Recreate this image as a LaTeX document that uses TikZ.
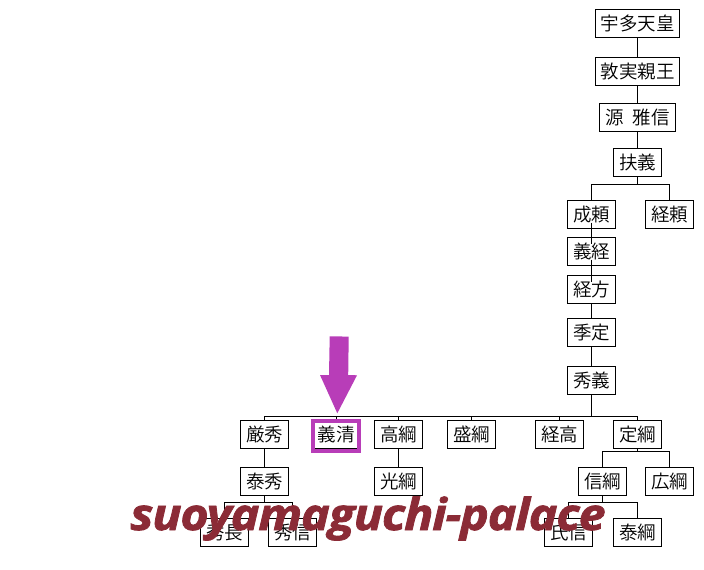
\documentclass[tikz,border=0pt]{standalone}
\usepackage{fontspec}
\usepackage{xcolor}
\setmainfont{Open Sans}
\newfontfamily\jpfont{Noto Sans CJK JP DemiLight}
\newfontfamily\stampfont{Open Sans}[BoldItalicFeatures={FakeBold=1.8,FakeStretch=1.1,LetterSpace=-2.5}]
\usetikzlibrary{positioning}
\definecolor{markpurple}{HTML}{B83DB8}
\definecolor{stampred}{HTML}{8B2B36}
\tikzset{
	kakei/.style={draw,line width=1pt,outer sep=0pt,inner sep=0pt,minimum width=48pt,minimum height=28pt,font=\jpfont\fontsize{18.5}{18.5}\selectfont},
	kakeiwide/.style={kakei,minimum width=84pt},
	kakeimid/.style={kakei,minimum width=76pt},
	mark box/.style={draw=markpurple,line width=4pt,inner sep=0pt,minimum width=46pt,minimum height=30pt},
	stamp/.style={inner sep=0pt,anchor=base west,text=stampred,font=\stampfont\bfseries\itshape\fontsize{44}{44}\selectfont},
	overrun/.style={shorten >=-6pt,shorten <=-6pt}
}

\begin{document}
\begin{tikzpicture}[x=1pt,y=-1pt,line width=1pt]
	\useasboundingbox (0,0) rectangle (704,570);
	% upper line
	\node[kakeiwide] (uda) at (637.5,23.5) {宇多天皇};
	\node[kakeiwide] (atsuzane) [below=20pt of uda] {敦実親王};
	\node[kakeimid] (masanobu) [below=18pt of atsuzane] {源\hspace{9pt}雅信};
	\node[kakei] (sukeyoshi) [below=17pt of masanobu] {扶義};
	\node[kakei] (nariyori) at (591.5,214.5) {成頼};
	\node[kakei] (tsuneyori) [right=30pt of nariyori] {経頼};
	\node[kakei] (yoshitsune) [below=9pt of nariyori] {義経};
	\node[kakei] (tsunekata) [below=10pt of yoshitsune] {経方};
	\node[kakei] (suesada) [below=15pt of tsunekata] {季定};
	\node[kakei] (hideyoshi) [below=20pt of suesada] {秀義};
	% children of hideyoshi
	\node[kakei] (itsuhide) at (264.5,434.5) {厳秀};
	\node[kakei] (yoshikiyo) [right=23.5pt of itsuhide] {義清};
	\node[kakei] (takatsuna) [right=14.5pt of yoshikiyo] {高綱};
	\node[kakei] (moritsuna) [right=25pt of takatsuna] {盛綱};
	\node[kakei] (tsunetaka) [right=40pt of moritsuna] {経高};
	\node[kakei] (sadatsuna) [right=30pt of tsunetaka] {定綱};
	\node[kakei] (yasuhide) [below=19pt of itsuhide] {泰秀};
	\node[kakei] (mitsutsuna) [below=19pt of takatsuna] {光綱};
	\node[kakei] (hidenaga) at (224.5,532.5) {秀長};
	\node[kakei] (hidenobu) [right=20pt of hidenaga] {秀信};
	\node[kakei] (nobutsuna) at (602.5,481.5) {信綱};
	\node[kakei] (hirotsuna) [right=19pt of nobutsuna] {広綱};
	\node[kakei] (ujinobu) at (568.5,532.5) {氏信};
	\node[kakei] (yasutsuna) [right=21pt of ujinobu] {泰綱};
	% branch heights
	\coordinate (busa) at (0,184.5);
	\coordinate (busb) at (0,416.5);
	\coordinate (busc) at (0,451.5);
	\coordinate (busd) at (0,502.5);
	% straight lines
	\draw (uda) -- (atsuzane);
	\draw (atsuzane) -- (masanobu);
	\draw (masanobu) -- (sukeyoshi);
	\draw (tsunekata) -- (suesada);
	\draw (suesada) -- (hideyoshi);
	\draw (itsuhide) -- (yasuhide);
	\draw (takatsuna) -- (mitsutsuna);
	\draw[overrun] (nariyori) -- (yoshitsune);
	\draw[overrun] (yoshitsune) -- (tsunekata);
	% branches
	\draw (sukeyoshi) -- (sukeyoshi |- busa);
	\draw (nariyori) |- (tsuneyori |- busa) -- (tsuneyori);
	\draw (hideyoshi) -- (hideyoshi |- busb);
	\draw (itsuhide) |- (sadatsuna |- busb) -- (sadatsuna);
	\foreach \n in {yoshikiyo,takatsuna,moritsuna,tsunetaka}
		\draw (\n) -- (\n |- busb);
	\draw (sadatsuna) -- (sadatsuna |- busc);
	\draw (nobutsuna) |- (hirotsuna |- busc) -- (hirotsuna);
	\draw (yasuhide) -- (yasuhide |- busd);
	\draw (hidenaga) |- (hidenobu |- busd) -- (hidenobu);
	\draw (nobutsuna) -- (nobutsuna |- busd);
	\draw (ujinobu) |- (yasutsuna |- busd) -- (yasutsuna);
	% marker
	\node[mark box] (yoshikiyomark) at (336,436) {};
	\fill[markpurple] (329.7,336.3) -- (348.7,336.6) -- (348.2,375) -- (357,375.3) -- (337.3,413.3) -- (320,375) -- (329,375) -- cycle;
	% stamp
	\node[stamp] (stamp) at (130,530) {suoyamaguchi-palace};
\end{tikzpicture}
\end{document}
